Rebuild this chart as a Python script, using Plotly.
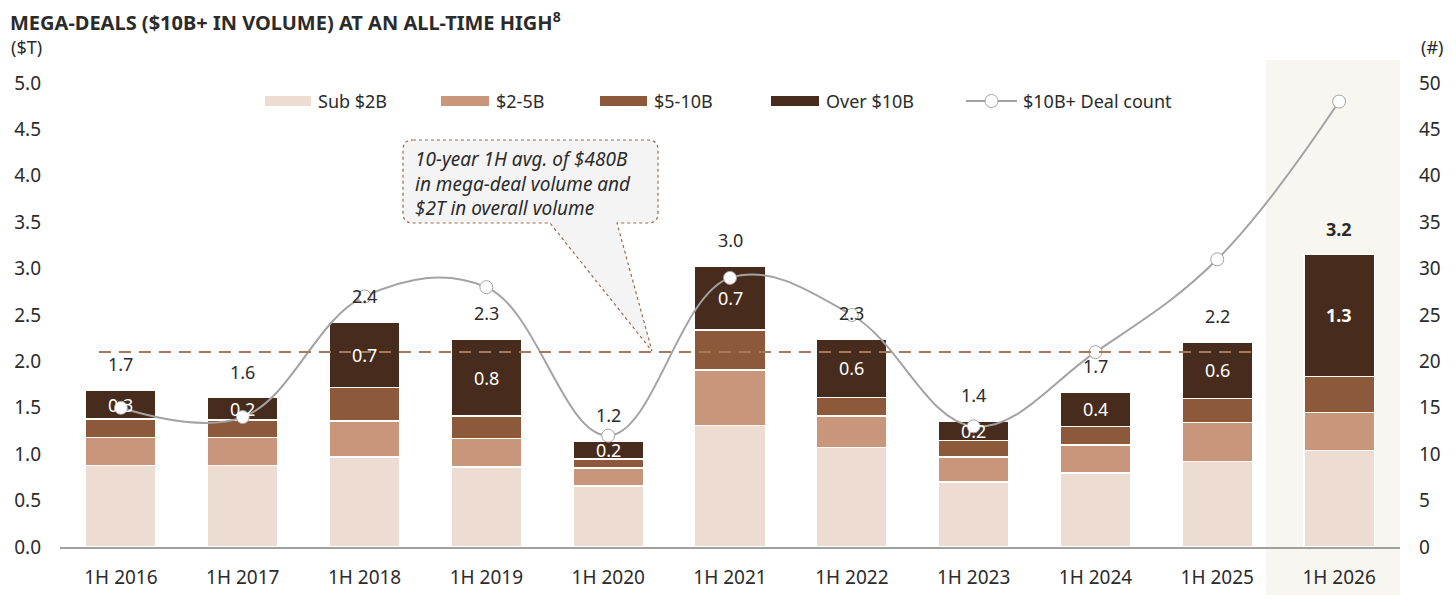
import plotly.graph_objects as go

# data
periods = ["1H 2016", "1H 2017", "1H 2018", "1H 2019", "1H 2020", "1H 2021",
           "1H 2022", "1H 2023", "1H 2024", "1H 2025", "1H 2026"]
sub_2b = [0.88, 0.88, 0.97, 0.86, 0.66, 1.31, 1.07, 0.70, 0.80, 0.92, 1.04]
b2_5 = [0.30, 0.30, 0.39, 0.31, 0.19, 0.60, 0.34, 0.27, 0.30, 0.42, 0.41]
b5_10 = [0.20, 0.19, 0.36, 0.24, 0.10, 0.43, 0.20, 0.18, 0.20, 0.26, 0.39]
over_10b = [0.31, 0.24, 0.70, 0.83, 0.19, 0.69, 0.63, 0.21, 0.37, 0.61, 1.31]
over_labels = ["0.3", "0.2", "0.7", "0.8", "0.2", "0.7", "0.6", "0.2", "0.4", "0.6", "1.3"]
total_labels = ["1.7", "1.6", "2.4", "2.3", "1.2", "3.0", "2.3", "1.4", "1.7", "2.2", "3.2"]
deal_count = [15, 14, 27, 28, 12, 29, 25, 13, 21, 31, 48]
avg_volume = 2.1

colors = ["#ecdcd2", "#c8967a", "#8c5a3b", "#472b1c"]
series = [("Sub $2B", sub_2b), ("$2-5B", b2_5), ("$5-10B", b5_10), ("Over $10B", over_10b)]
FONT = "Noto Sans"
TXT = "#2b2b2b"

# plot area in page pixels; the page body adds an 8px margin
OFF = 8
L, R, T, B = 60, 1400, 83, 547


def px(x):
    return (x - L) / (R - L)


def py(y):
    return (B - y) / (B - T)


def label(x, y, text, size=18, anchor="left", **kw):
    fig.add_annotation(xref="paper", yref="paper", x=px(x), y=py(y), text=text,
                       showarrow=False, xanchor=anchor, yanchor="middle",
                       font=dict(size=size, color=TXT, family=kw.pop("family", FONT)), **kw)


fig = go.Figure()

for i, (name, vals) in enumerate(series):
    fig.add_trace(go.Bar(
        x=periods, y=vals, name=name, marker_color=colors[i],
        marker_line=dict(color="white", width=1.5),
        showlegend=False, hoverinfo="skip",
    ))

fig.add_trace(go.Scatter(
    x=periods, y=deal_count, yaxis="y2", mode="lines+markers",
    line=dict(color="#a3a3a3", width=2, shape="spline", smoothing=1.1),
    marker=dict(size=13, color="white", line=dict(color="#a3a3a3", width=1)),
    cliponaxis=False, showlegend=False,
))

# totals above each stack and Over $10B value in the middle of its segment
for i, p in enumerate(periods):
    base = sub_2b[i] + b2_5[i] + b5_10[i]
    top = base + over_10b[i]
    bold = p == "1H 2026"
    fig.add_annotation(x=p, y=top, text="<b>%s</b>" % total_labels[i] if bold else total_labels[i],
                       showarrow=False, yanchor="bottom", yshift=12,
                       font=dict(size=18, color=TXT, family=FONT))
    fig.add_annotation(x=p, y=base + over_10b[i] / 2,
                       text="<b>%s</b>" % over_labels[i] if bold else over_labels[i],
                       showarrow=False, yanchor="middle",
                       font=dict(size=18, color="white", family=FONT))

shapes = []
# highlight for the latest period
shapes.append(dict(type="rect", xref="x", yref="paper", x0=9.4, x1=10.5,
                   y0=py(595), y1=py(60), fillcolor="#f8f6f0", line_width=0, layer="below"))
# 10-year average line
shapes.append(dict(type="line", xref="x", yref="y", x0=-0.18, x1=9.28, y0=avg_volume, y1=avg_volume,
                   line=dict(color="#a8785c", width=2, dash="12px,8px")))

# callout box with pointer
bl, br, bt, bb, r = 403, 658, 140, 223, 10
tip = (652, 351)
pts = [
    ("M", bl + r, bt), ("L", br - r, bt), ("Q", br, bt, br, bt + r),
    ("L", br, bb - r), ("Q", br, bb, br - r, bb),
    ("L", 617, bb), ("L", tip[0], tip[1]), ("L", 550, bb),
    ("L", bl + r, bb), ("Q", bl, bb, bl, bb - r),
    ("L", bl, bt + r), ("Q", bl, bt, bl + r, bt),
]
path = ""
for p in pts:
    cmd, coords = p[0], p[1:]
    vals = []
    for k in range(0, len(coords), 2):
        vals.append("%.5f,%.5f" % (px(coords[k]), py(coords[k + 1])))
    path += cmd + " ".join(vals) + " "
path += "Z"
shapes.append(dict(type="path", xref="paper", yref="paper", path=path,
                   fillcolor="#f4f4f4", line=dict(color="#9c6a4c", width=1.2, dash="dot")))

# custom legend
legend_items = [("Sub $2B", 265, 311), ("$2-5B", 441, 489), ("$5-10B", 600, 647), ("Over $10B", 771, 819)]
for k, (name, x0, x1) in enumerate(legend_items):
    shapes.append(dict(type="rect", xref="paper", yref="paper", x0=px(x0), x1=px(x1),
                       y0=py(106), y1=py(96), fillcolor=colors[k], line_width=0))
    label(x1 + 5, 101, name)
shapes.append(dict(type="line", xref="paper", yref="paper", x0=px(966), x1=px(1017),
                   y0=py(101), y1=py(101), line=dict(color="#a3a3a3", width=2)))
shapes.append(dict(type="circle", xref="paper", yref="paper", x0=px(985), x1=px(998),
                   y0=py(107.5), y1=py(94.5), fillcolor="white", line=dict(color="#a3a3a3", width=1)))
label(1021, 101, "$10B+ Deal count")

# callout text
label(413, 183, "<i>10-year 1H avg. of $480B<br>in mega-deal volume and<br>$2T in overall volume</i>",
      size=19, align="left")

# axis unit labels and title
label(9, 47, "($T)")
label(1419, 47, "(#)")
label(8, 21, "<b>MEGA-DEALS ($10B+ IN VOLUME) AT AN ALL-TIME HIGH<sup>8</sup></b>", size=20,
      family="Liberation Sans Narrow, " + FONT)

fig.update_layout(
    width=1456 - 2 * OFF, height=606 - 2 * OFF,
    barmode="stack", bargap=0.42,
    plot_bgcolor="white", paper_bgcolor="white",
    margin=dict(l=L - OFF, r=1456 - R - OFF, t=T - OFF, b=606 - B - OFF),
    shapes=shapes,
    font=dict(family=FONT, size=18, color=TXT),
    xaxis=dict(range=[-0.5, 10.5], showgrid=False, showline=True, linecolor="#a0a0a0", linewidth=2,
               ticks="", ticklabelstandoff=12, tickfont=dict(size=19), automargin=False),
    yaxis=dict(range=[0, 5.0], dtick=0.5, tickformat=".1f", showgrid=False, zeroline=False,
               ticklabelstandoff=18, tickfont=dict(size=19), automargin=False),
    yaxis2=dict(range=[0, 50], dtick=5, overlaying="y", side="right", showgrid=False,
                zeroline=False, ticklabelstandoff=18, tickfont=dict(size=19), automargin=False),
)

fig.write_html("out.html")
